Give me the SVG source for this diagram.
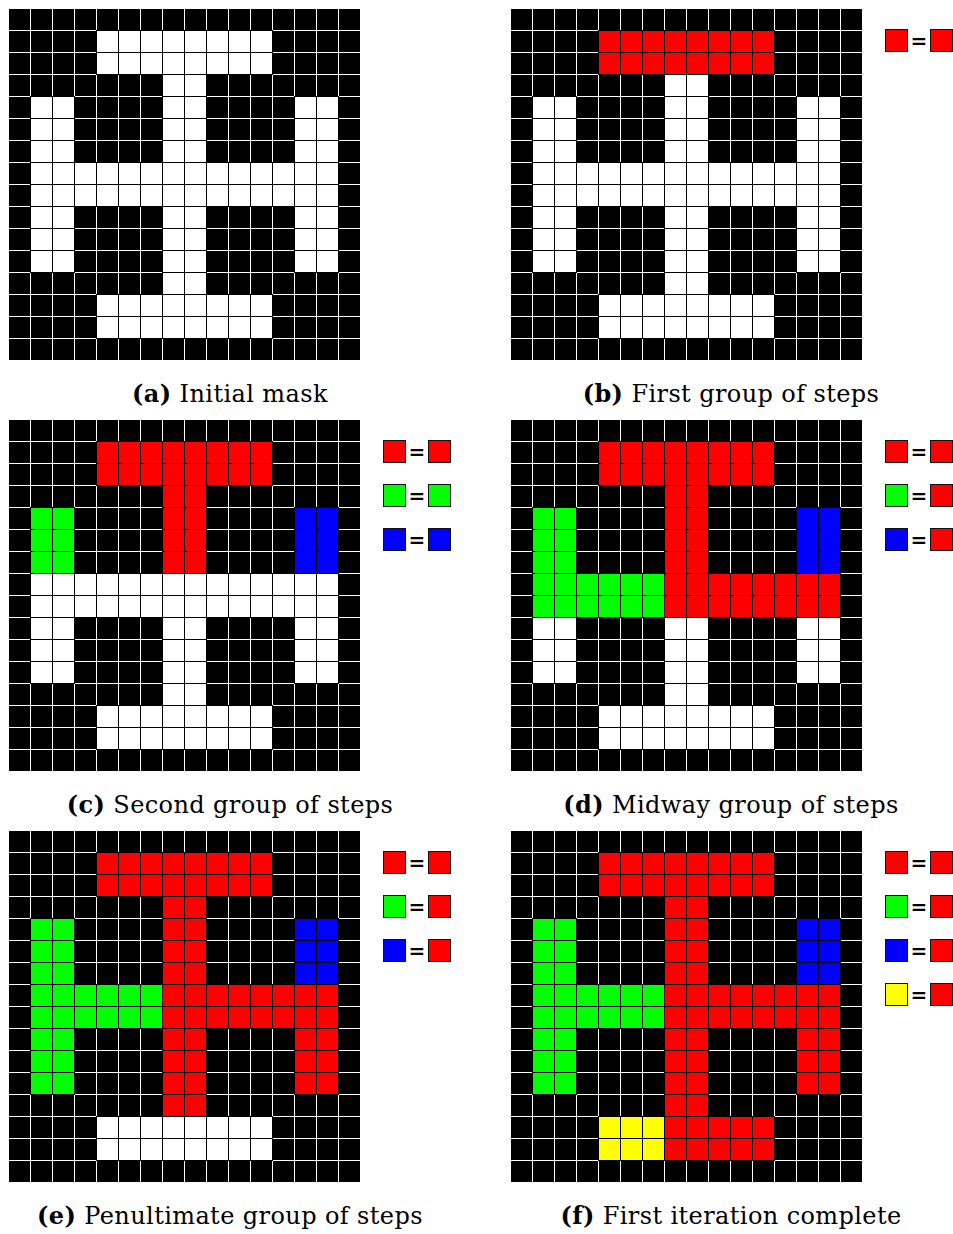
<svg xmlns="http://www.w3.org/2000/svg" width="953" height="1234" viewBox="0 0 953 1234">
<style>
.cap{font-family:"DejaVu Serif","Liberation Serif",serif;font-size:24px;letter-spacing:0.4px;fill:#000;text-anchor:middle}
.cap tspan.b{font-weight:bold}
.eq{font-family:"DejaVu Sans","Liberation Sans",sans-serif;font-size:20px;font-weight:bold;fill:#000;text-anchor:middle}
.sq{stroke:#111;stroke-width:1}
.r{fill:#ff0000}.g{fill:#00ff00}.bl{fill:#0000ff}.y{fill:#ffff00}
</style>
<defs>
<pattern id="pK" width="22" height="22" patternUnits="userSpaceOnUse"><rect width="22" height="22" fill="#fff"/><rect x="1" y="1" width="21" height="21" fill="#000"/></pattern>
<pattern id="pW" width="22" height="22" patternUnits="userSpaceOnUse"><rect width="22" height="22" fill="#000"/><rect x="1" y="1" width="21" height="21" fill="#fff"/></pattern>
<pattern id="pR" width="22" height="22" patternUnits="userSpaceOnUse"><rect width="22" height="22" fill="#000"/><rect x="1" y="1" width="21" height="21" fill="#ff0000"/></pattern>
<pattern id="pG" width="22" height="22" patternUnits="userSpaceOnUse"><rect width="22" height="22" fill="#000"/><rect x="1" y="1" width="21" height="21" fill="#00ff00"/></pattern>
<pattern id="pB" width="22" height="22" patternUnits="userSpaceOnUse"><rect width="22" height="22" fill="#000"/><rect x="1" y="1" width="21" height="21" fill="#0000ff"/></pattern>
<pattern id="pY" width="22" height="22" patternUnits="userSpaceOnUse"><rect width="22" height="22" fill="#000"/><rect x="1" y="1" width="21" height="21" fill="#ffff00"/></pattern>
</defs>
<rect width="953" height="1234" fill="#fff"/>
<g id="connectors"/>

<g id="panel-a" transform="translate(8,8)">
<rect width="353" height="353" fill="url(#pK)"/>
<rect x="88" y="22" width="177" height="45" fill="url(#pW)"/>
<rect x="154" y="66" width="45" height="89" fill="url(#pW)"/>
<rect x="22" y="88" width="45" height="67" fill="url(#pW)"/>
<rect x="286" y="88" width="45" height="67" fill="url(#pW)"/>
<rect x="22" y="154" width="309" height="45" fill="url(#pW)"/>
<rect x="22" y="198" width="45" height="67" fill="url(#pW)"/>
<rect x="154" y="198" width="45" height="89" fill="url(#pW)"/>
<rect x="286" y="198" width="45" height="67" fill="url(#pW)"/>
<rect x="88" y="286" width="177" height="45" fill="url(#pW)"/>
</g>
<text class="cap" x="230" y="402"><tspan class="b">(a)</tspan> Initial mask</text>

<g id="panel-b" transform="translate(510,8)">
<rect width="353" height="353" fill="url(#pK)"/>
<rect x="88" y="22" width="177" height="45" fill="url(#pR)"/>
<rect x="154" y="66" width="45" height="89" fill="url(#pW)"/>
<rect x="22" y="88" width="45" height="67" fill="url(#pW)"/>
<rect x="286" y="88" width="45" height="67" fill="url(#pW)"/>
<rect x="22" y="154" width="309" height="45" fill="url(#pW)"/>
<rect x="22" y="198" width="45" height="67" fill="url(#pW)"/>
<rect x="154" y="198" width="45" height="89" fill="url(#pW)"/>
<rect x="286" y="198" width="45" height="67" fill="url(#pW)"/>
<rect x="88" y="286" width="177" height="45" fill="url(#pW)"/>
<g id="legend-b">
<rect class="sq r" x="375.5" y="21.5" width="22" height="22"/><text class="eq" x="409" y="39.5">=</text><rect class="sq r" x="420.5" y="21.5" width="22" height="22"/>
</g>
</g>
<text class="cap" x="731" y="402"><tspan class="b">(b)</tspan> First group of steps</text>

<g id="panel-c" transform="translate(8,419)">
<rect width="353" height="353" fill="url(#pK)"/>
<rect x="88" y="22" width="177" height="45" fill="url(#pR)"/>
<rect x="154" y="66" width="45" height="89" fill="url(#pR)"/>
<rect x="22" y="88" width="45" height="67" fill="url(#pG)"/>
<rect x="286" y="88" width="45" height="67" fill="url(#pB)"/>
<rect x="22" y="154" width="309" height="45" fill="url(#pW)"/>
<rect x="22" y="198" width="45" height="67" fill="url(#pW)"/>
<rect x="154" y="198" width="45" height="89" fill="url(#pW)"/>
<rect x="286" y="198" width="45" height="67" fill="url(#pW)"/>
<rect x="88" y="286" width="177" height="45" fill="url(#pW)"/>
<g id="legend-c">
<rect class="sq r" x="375.5" y="21.5" width="22" height="22"/><text class="eq" x="409" y="39.5">=</text><rect class="sq r" x="420.5" y="21.5" width="22" height="22"/>
<rect class="sq g" x="375.5" y="65.5" width="22" height="22"/><text class="eq" x="409" y="83.5">=</text><rect class="sq g" x="420.5" y="65.5" width="22" height="22"/>
<rect class="sq bl" x="375.5" y="109.5" width="22" height="22"/><text class="eq" x="409" y="127.5">=</text><rect class="sq bl" x="420.5" y="109.5" width="22" height="22"/>
</g>
</g>
<text class="cap" x="230" y="813"><tspan class="b">(c)</tspan> Second group of steps</text>

<g id="panel-d" transform="translate(510,419)">
<rect width="353" height="353" fill="url(#pK)"/>
<rect x="88" y="22" width="177" height="45" fill="url(#pR)"/>
<rect x="154" y="66" width="45" height="89" fill="url(#pR)"/>
<rect x="22" y="88" width="45" height="67" fill="url(#pG)"/>
<rect x="286" y="88" width="45" height="67" fill="url(#pB)"/>
<rect x="22" y="154" width="133" height="45" fill="url(#pG)"/>
<rect x="154" y="154" width="177" height="45" fill="url(#pR)"/>
<rect x="22" y="198" width="45" height="67" fill="url(#pW)"/>
<rect x="154" y="198" width="45" height="89" fill="url(#pW)"/>
<rect x="286" y="198" width="45" height="67" fill="url(#pW)"/>
<rect x="88" y="286" width="177" height="45" fill="url(#pW)"/>
<g id="legend-d">
<rect class="sq r" x="375.5" y="21.5" width="22" height="22"/><text class="eq" x="409" y="39.5">=</text><rect class="sq r" x="420.5" y="21.5" width="22" height="22"/>
<rect class="sq g" x="375.5" y="65.5" width="22" height="22"/><text class="eq" x="409" y="83.5">=</text><rect class="sq r" x="420.5" y="65.5" width="22" height="22"/>
<rect class="sq bl" x="375.5" y="109.5" width="22" height="22"/><text class="eq" x="409" y="127.5">=</text><rect class="sq r" x="420.5" y="109.5" width="22" height="22"/>
</g>
</g>
<text class="cap" x="731" y="813"><tspan class="b">(d)</tspan> Midway group of steps</text>

<g id="panel-e" transform="translate(8,830)">
<rect width="353" height="353" fill="url(#pK)"/>
<rect x="88" y="22" width="177" height="45" fill="url(#pR)"/>
<rect x="154" y="66" width="45" height="89" fill="url(#pR)"/>
<rect x="22" y="88" width="45" height="67" fill="url(#pG)"/>
<rect x="286" y="88" width="45" height="67" fill="url(#pB)"/>
<rect x="22" y="154" width="133" height="45" fill="url(#pG)"/>
<rect x="154" y="154" width="177" height="45" fill="url(#pR)"/>
<rect x="22" y="198" width="45" height="67" fill="url(#pG)"/>
<rect x="154" y="198" width="45" height="89" fill="url(#pR)"/>
<rect x="286" y="198" width="45" height="67" fill="url(#pR)"/>
<rect x="88" y="286" width="177" height="45" fill="url(#pW)"/>
<g id="legend-e">
<rect class="sq r" x="375.5" y="21.5" width="22" height="22"/><text class="eq" x="409" y="39.5">=</text><rect class="sq r" x="420.5" y="21.5" width="22" height="22"/>
<rect class="sq g" x="375.5" y="65.5" width="22" height="22"/><text class="eq" x="409" y="83.5">=</text><rect class="sq r" x="420.5" y="65.5" width="22" height="22"/>
<rect class="sq bl" x="375.5" y="109.5" width="22" height="22"/><text class="eq" x="409" y="127.5">=</text><rect class="sq r" x="420.5" y="109.5" width="22" height="22"/>
</g>
</g>
<text class="cap" x="230" y="1224"><tspan class="b">(e)</tspan> Penultimate group of steps</text>

<g id="panel-f" transform="translate(510,830)">
<rect width="353" height="353" fill="url(#pK)"/>
<rect x="88" y="22" width="177" height="45" fill="url(#pR)"/>
<rect x="154" y="66" width="45" height="89" fill="url(#pR)"/>
<rect x="22" y="88" width="45" height="67" fill="url(#pG)"/>
<rect x="286" y="88" width="45" height="67" fill="url(#pB)"/>
<rect x="22" y="154" width="133" height="45" fill="url(#pG)"/>
<rect x="154" y="154" width="177" height="45" fill="url(#pR)"/>
<rect x="22" y="198" width="45" height="67" fill="url(#pG)"/>
<rect x="154" y="198" width="45" height="89" fill="url(#pR)"/>
<rect x="286" y="198" width="45" height="67" fill="url(#pR)"/>
<rect x="88" y="286" width="67" height="45" fill="url(#pY)"/>
<rect x="154" y="286" width="111" height="45" fill="url(#pR)"/>
<g id="legend-f">
<rect class="sq r" x="375.5" y="21.5" width="22" height="22"/><text class="eq" x="409" y="39.5">=</text><rect class="sq r" x="420.5" y="21.5" width="22" height="22"/>
<rect class="sq g" x="375.5" y="65.5" width="22" height="22"/><text class="eq" x="409" y="83.5">=</text><rect class="sq r" x="420.5" y="65.5" width="22" height="22"/>
<rect class="sq bl" x="375.5" y="109.5" width="22" height="22"/><text class="eq" x="409" y="127.5">=</text><rect class="sq r" x="420.5" y="109.5" width="22" height="22"/>
<rect class="sq y" x="375.5" y="153.5" width="22" height="22"/><text class="eq" x="409" y="171.5">=</text><rect class="sq r" x="420.5" y="153.5" width="22" height="22"/>
</g>
</g>
<text class="cap" x="731" y="1224"><tspan class="b">(f)</tspan> First iteration complete</text>
</svg>
